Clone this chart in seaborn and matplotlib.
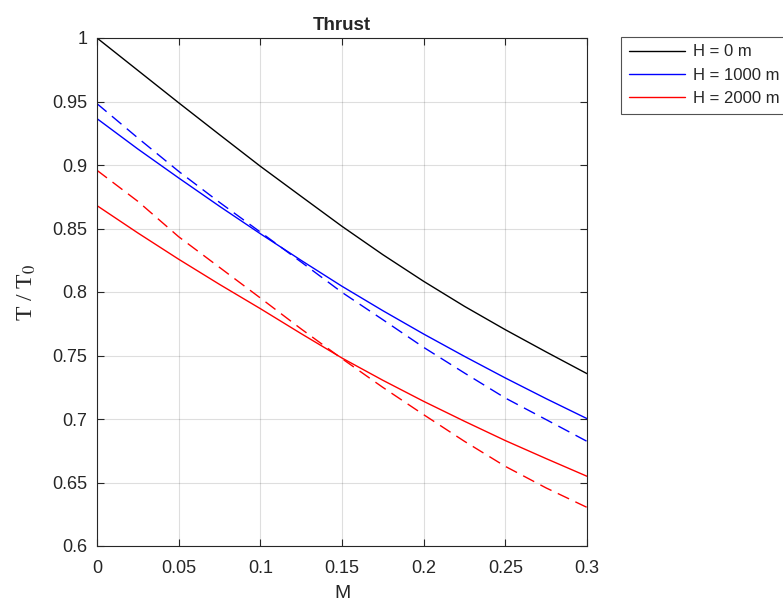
import matplotlib
matplotlib.use("Agg")
import matplotlib.pyplot as plt
import seaborn as sns
import pandas as pd

M = [0, 0.025, 0.05, 0.075, 0.1, 0.125, 0.15, 0.175, 0.2, 0.225, 0.25, 0.275, 0.3]
h0_solid = [1.0, 0.9745, 0.949, 0.9239, 0.899, 0.8753, 0.8517, 0.8294, 0.8084,
            0.7887, 0.7703, 0.7528, 0.7357]
h1000_solid = [0.9365, 0.9126, 0.8898, 0.8675, 0.8459, 0.8249, 0.8045, 0.7853,
               0.7669, 0.7493, 0.7323, 0.716, 0.7003]
h1000_dashed = [0.9483, 0.9213, 0.895, 0.8706, 0.8472, 0.8236, 0.7997, 0.7782,
                0.7564, 0.7362, 0.7165, 0.6995, 0.6824]
h2000_solid = [0.868, 0.8465, 0.8258, 0.806, 0.7869, 0.7672, 0.748, 0.7305,
               0.7139, 0.6982, 0.683, 0.6688, 0.6549]
h2000_dashed = [0.8958, 0.8714, 0.8435, 0.8194, 0.7953, 0.7709, 0.7475, 0.7249,
                0.7034, 0.6824, 0.6627, 0.6457, 0.6304]
labels = ["H = 0 m", "H = 1000 m", "H = 2000 m"]
colors = ["black", "#0000ff", "#ff0000"]

sns.set_theme(style="white")
plt.rcParams["font.family"] = ["Liberation Sans", "DejaVu Sans"]
plt.rcParams["mathtext.fontset"] = "stix"

fig = plt.figure(figsize=(7.83, 6.05), dpi=100)
ax = fig.add_axes([97/783, 1-546/605, (587-97)/783, (546-38)/605])

dash = (0, (9, 5))
series = [
    (h0_solid, colors[0], "-", labels[0]),
    (h1000_solid, colors[1], "-", labels[1]),
    (h1000_dashed, colors[1], dash, None),
    (h2000_solid, colors[2], "-", labels[2]),
    (h2000_dashed, colors[2], dash, None),
]
handles = []
for vals, c, ls, lab in series:
    df = pd.DataFrame({"M": M, "T": vals})
    sns.lineplot(data=df, x="M", y="T", ax=ax, color=c, linewidth=1.0,
                 linestyle=ls, legend=False)
    if lab is not None:
        handles.append((ax.lines[-1], lab))

ax.set_xlim(0, 0.3)
ax.set_ylim(0.6, 1.0)
ax.set_xticks([0, 0.05, 0.1, 0.15, 0.2, 0.25, 0.3])
ax.set_xticklabels(["0", "0.05", "0.1", "0.15", "0.2", "0.25", "0.3"])
ax.set_yticks([0.6, 0.65, 0.7, 0.75, 0.8, 0.85, 0.9, 0.95, 1.0])
ax.set_yticklabels(["0.6", "0.65", "0.7", "0.75", "0.8", "0.85", "0.9", "0.95", "1"])
ax.grid(True, color="#000000", alpha=0.13, linewidth=0.8)
ax.tick_params(axis="both", direction="in", length=5, width=0.8, colors="#262626",
               labelsize=13, top=True, right=True, bottom=True, left=True)
ax.tick_params(axis="x", pad=10)
ax.tick_params(axis="y", pad=7)
for s in ax.spines.values():
    s.set_color("#262626")
    s.set_linewidth(0.8)

ax.set_title("Thrust", fontsize=13.5, fontweight="bold", pad=6)
ax.set_xlabel("M", fontsize=14, color="#262626", labelpad=6)
ax.set_ylabel(r"T / T$_0$", fontsize=17, family="Liberation Serif", labelpad=10)

leg = fig.legend([h for h, _ in handles], [l for _, l in handles],
                 loc="upper left", bbox_to_anchor=(621/783, 1-37/605),
                 fontsize=12, frameon=True, fancybox=False, handlelength=3.4,
                 borderpad=0.45, labelspacing=0.5, handletextpad=0.45,
                 borderaxespad=0)
leg.get_frame().set_edgecolor("#262626")
leg.get_frame().set_linewidth(0.8)

fig.savefig("out.png", dpi=100)
